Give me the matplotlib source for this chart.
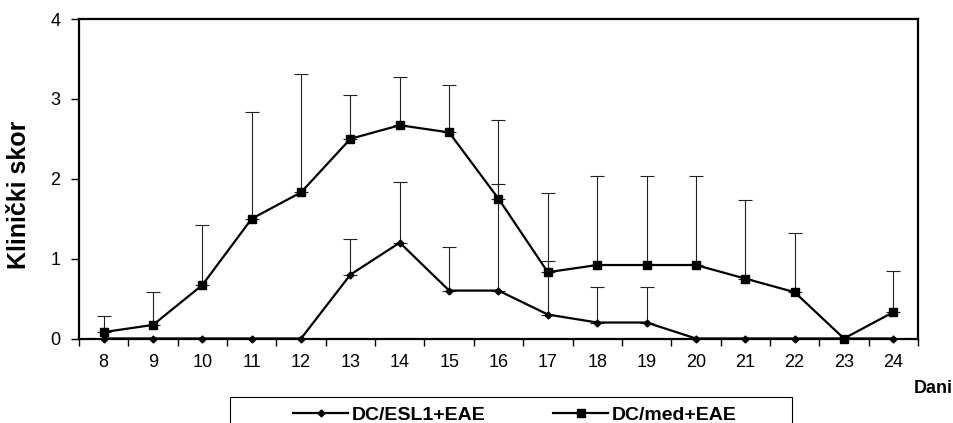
import numpy as np
import matplotlib
matplotlib.use("Agg")
import matplotlib.pyplot as plt
from matplotlib.patches import Rectangle

plt.rcParams['font.family'] = ['Liberation Sans', 'DejaVu Sans']

dani = [8, 9, 10, 11, 12, 13, 14, 15, 16, 17, 18, 19, 20, 21, 22, 23, 24]

# klinicki skor - srednje vrijednosti
esl1 = [0, 0, 0, 0, 0, 0.8, 1.2, 0.6, 0.6, 0.3, 0.2, 0.2, 0, 0, 0, 0, 0]
med = [0.08, 0.17, 0.67, 1.5, 1.83, 2.5, 2.67, 2.58, 1.75, 0.83, 0.92, 0.92, 0.92, 0.75, 0.58, 0, 0.33]

# standardna devijacija (samo gornja granica)
esl1_sd = [0, 0, 0, 0, 0, 0.45, 0.76, 0.55, 1.34, 0.67, 0.45, 0.45, 0, 0, 0, 0, 0]
med_sd = [0.20, 0.41, 0.75, 1.34, 1.48, 0.55, 0.60, 0.59, 0.99, 0.99, 1.11, 1.11, 1.11, 0.99, 0.74, 0, 0.52]

x = np.arange(len(dani))

fig = plt.figure(figsize=(9.54, 4.23), dpi=100)
ax = fig.add_axes([79/954, 1 - 338.5/423, (918 - 79)/954, (338.5 - 19)/423])

def gornja_greska(y, sd):
    y = np.array(y)
    sd = np.array(sd)
    m = sd > 0
    ax.errorbar(x[m], y[m], yerr=[np.zeros(m.sum()), sd[m]], fmt='none',
                ecolor='#222222', elinewidth=0.8, capsize=4.8, capthick=0.8, zorder=2)

gornja_greska(esl1, esl1_sd)
gornja_greska(med, med_sd)

l1, = ax.plot(x, esl1, color='black', lw=1.6, marker='D', markersize=3.5,
              label='DC/ESL1+EAE', zorder=3, clip_on=False)
l2, = ax.plot(x, med, color='black', lw=1.6, marker='s', markersize=5.5,
              label='DC/med+EAE', zorder=3, clip_on=False)

ax.set_xlim(-0.5, len(dani) - 0.5)
ax.set_ylim(0, 4)
ax.set_yticks([0, 1, 2, 3, 4])

# podjela kategorija na x osi
ax.set_xticks(np.arange(-0.5, len(dani)), labels=[''] * (len(dani) + 1))
ax.set_xticks(x, labels=[str(d) for d in dani], minor=True)
ax.tick_params(axis='x', which='major', direction='out', length=5, width=1)
ax.tick_params(axis='x', which='minor', length=0, pad=11, labelsize=13)
ax.tick_params(axis='y', direction='out', length=5.5, width=1, labelsize=13, pad=8)

for s in ax.spines.values():
    s.set_linewidth(1.6)

ax.set_ylabel('Klinički skor', fontsize=18, fontweight='bold')
ax.yaxis.set_label_coords((31 - 79)/839, 0.449)
fig.text(933/954, 1 - 388/423, 'Dani', fontsize=13, fontweight='bold',
         ha='center', va='center')

fig.patches.append(Rectangle((230/954, -0.1), (792 - 230)/954, 0.1 + (423 - 397)/423,
                             transform=fig.transFigure, fill=False,
                             edgecolor='black', lw=0.8))
fig.legend(handles=[l1, l2], loc='center', bbox_to_anchor=(515/954, 1 - 415/423),
           ncol=2, frameon=False, handlelength=2.8,
           columnspacing=3.5, handletextpad=0.2,
           prop={'weight': 'bold', 'size': 14})

fig.savefig('out.png', dpi=100)
